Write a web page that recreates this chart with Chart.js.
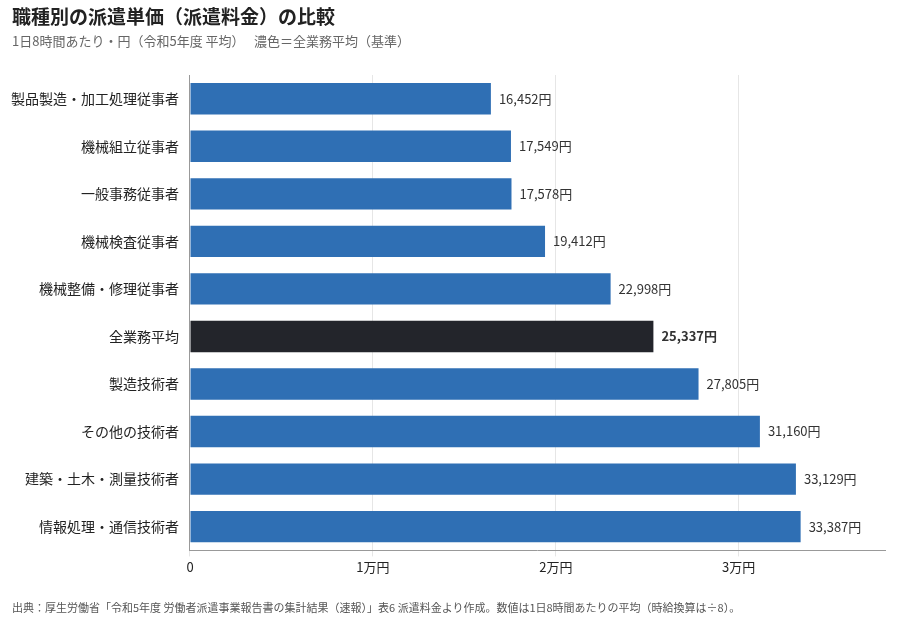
<!DOCTYPE html>
<html><head><meta charset="utf-8">
<script src="https://cdn.jsdelivr.net/npm/chart.js@4/dist/chart.umd.min.js"></script>
<style>
body{margin:0;width:900px;height:620px;position:relative;font-family:"Noto Sans CJK JP","Noto Sans",sans-serif;background:#fff;overflow:hidden}
#t{position:absolute;left:12px;top:2px;font-size:19px;font-weight:bold;color:#222}
#s{position:absolute;left:12px;top:31px;font-size:13px;color:#666}
#f{position:absolute;left:12px;top:599px;font-size:11px;color:#555}
#w{position:absolute;left:0;top:0;width:900px;height:620px}
</style></head><body>
<div id="w"><canvas id="c"></canvas></div>
<div id="t">職種別の派遣単価（派遣料金）の比較</div>
<div id="s">1日8時間あたり・円（令和5年度 平均）　 濃色＝全業務平均（基準）</div>
<div id="f">出典：厚生労働省「令和5年度 労働者派遣事業報告書の集計結果（速報）」表6 派遣料金より作成。数値は1日8時間あたりの平均（時給換算は÷8）。</div>
<script>
const categories=["製品製造・加工処理従事者","機械組立従事者","一般事務従事者","機械検査従事者","機械整備・修理従事者","全業務平均","製造技術者","その他の技術者","建築・土木・測量技術者","情報処理・通信技術者"];
const values=[16452,17549,17578,19412,22998,25337,27805,31160,33129,33387];
const baseIndex=5;
const tickLabels={0:"0",10000:"1万円",20000:"2万円",30000:"3万円"};
const font="'Noto Sans CJK JP','Noto Sans',sans-serif";
const labelPlugin={id:"lbl",afterDatasetsDraw(ch){const ctx=ch.ctx;const m=ch.getDatasetMeta(0);ctx.save();ctx.textBaseline="middle";m.data.forEach((b,i)=>{ctx.font=(i===baseIndex?"bold ":"")+"13px "+font;ctx.fillStyle="#333";ctx.fillText(values[i].toLocaleString("en-US")+"円",b.x+8,b.y);});ctx.restore();}};
new Chart(document.getElementById("c"),{type:"bar",
data:{labels:categories,datasets:[{data:values,backgroundColor:values.map((v,i)=>i===baseIndex?"#23252b":"#2f6fb4"),categoryPercentage:1,barPercentage:0.66}]},
plugins:[labelPlugin],
options:{indexAxis:"y",responsive:true,maintainAspectRatio:false,animation:false,
layout:{padding:{top:75,bottom:42,left:8,right:15}},
plugins:{legend:{display:false},tooltip:{enabled:false}},
scales:{x:{min:0,max:38000,afterBuildTicks(a){a.ticks=[0,10000,20000,30000].map(v=>({value:v}));},
ticks:{callback:v=>tickLabels[v],color:"#222",font:{size:13,family:font}},
grid:{color:"#e6e6e6",drawTicks:true,tickLength:6},border:{color:"#999"}},
y:{ticks:{color:"#222",font:{size:14,family:font}},grid:{display:false},border:{color:"#999"}}}}});
</script></body></html>
